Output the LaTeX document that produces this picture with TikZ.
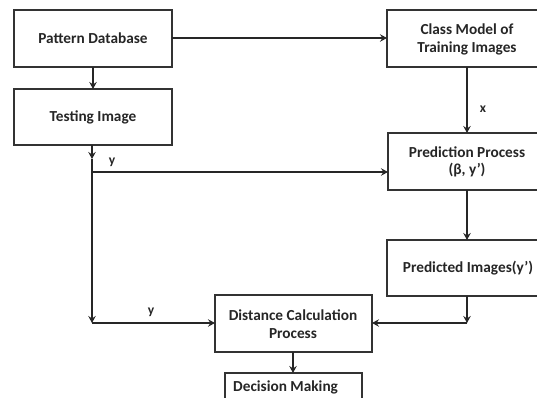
\documentclass[tikz,border=0pt]{standalone}
\usepackage{fontspec}
\setmainfont{Carlito}
\usetikzlibrary{arrows.meta}
\begin{document}
\begin{tikzpicture}[x=1pt,y=-1pt,
  box/.style={draw=black!80,line width=1.6pt,fill=white},
  lbl/.style={font=\bfseries\fontsize{15.3}{17.5}\selectfont,text=black!85,align=center,inner sep=0pt},
  conn/.style={draw=black!85,line width=1.6pt},
  arr/.style={conn,-{Stealth[length=7pt,width=7.5pt,inset=2.5pt]}},
  small/.style={font=\bfseries\fontsize{13.5}{15}\selectfont,text=black!85,inner sep=0pt}]
\useasboundingbox (0,0) rectangle (537,397);
% boxes
\draw[box] (14,10) rectangle (172,67);
\node[lbl] (pd) at (93,38.5) {Pattern Database};
\draw[box] (14,89) rectangle (172,145);
\node[lbl] (ti) at (93,117) {Testing Image};
\draw[box] (387,10) rectangle (548,67);
\node[lbl] (cm) at (467,39.5) {Class Model of\\Training Images};
\draw[box] (388,133) rectangle (548,190);
\node[lbl] (pp) at (467,162) {Prediction Process\\(β, y')};
\draw[box] (387,240) rectangle (550,296);
\node[lbl] (pi) at (468,268) {Predicted Images(y')};
\draw[box] (215,295) rectangle (372,352);
\node[lbl] (dc) at (293,324) {Distance Calculation\\Process};
\draw[box] (225,373) rectangle (362,405);
\node[lbl,anchor=west] (dm) at (233,387) {Decision Making};
% anchor coordinates
\coordinate (pdE) at (172,38);
\coordinate (cmW) at (387,38);
\coordinate (pdS) at (93,67);
\coordinate (tiN) at (93,89);
\coordinate (tiS) at (92,145);
\coordinate (j1) at (92,159);
\coordinate (j2) at (92,172);
\coordinate (j3) at (92,323);
\coordinate (ppW) at (388,172);
\coordinate (dcW) at (215,323);
\coordinate (dcE) at (372,323);
\coordinate (cmS) at (467,67);
\coordinate (ppN) at (467,133);
\coordinate (ppS) at (467,190);
\coordinate (piN) at (467,240);
\coordinate (piS) at (467,296);
\coordinate (k1) at (467,323);
\coordinate (dcS) at (293,352);
\coordinate (dmN) at (293,373);
% connectors
\draw[arr] (pdE) -- (cmW);
\draw[arr] (pdS) -- (tiN);
\draw[arr] (cmS) -- (ppN);
\draw[arr] (tiS) -- (j1);
\draw[arr] (j1) -- (j3);
\draw[arr] (j2) -- (ppW);
\draw[arr] (j3) -- (dcW);
\draw[arr] (ppS) -- (piN);
\draw[arr] (piS) -- (k1);
\draw[arr] (k1) -- (dcE);
\draw[arr] (dcS) -- (dmN);
% labels
\node[small] (lx) at (483,109) {x};
\node[small] (ly1) at (112,162) {y};
\node[small] (ly2) at (151,312) {y};
\end{tikzpicture}
\end{document}
